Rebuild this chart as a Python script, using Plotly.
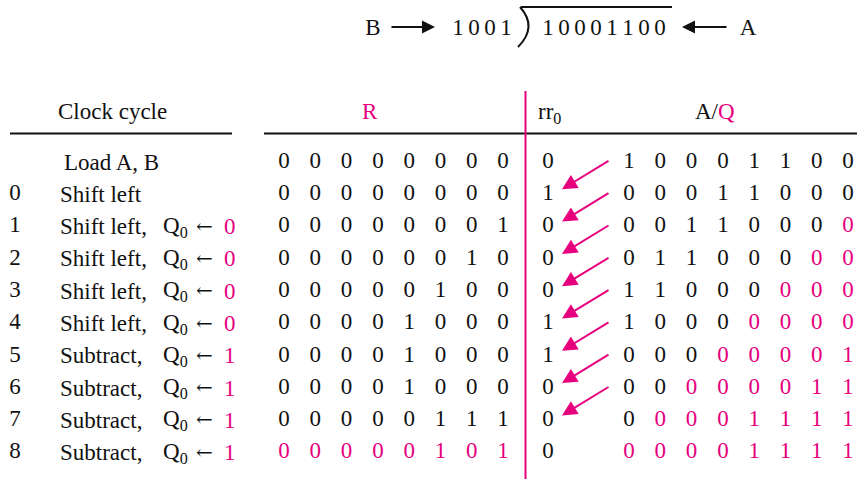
import plotly.graph_objects as go

# ---------------- data ----------------
row_numbers = ["", "0", "1", "2", "3", "4", "5", "6", "7", "8"]
operations = ["Load A, B", "Shift left", "Shift left,", "Shift left,", "Shift left,",
              "Shift left,", "Subtract,", "Subtract,", "Subtract,", "Subtract,"]
q0_values = [None, None, "0", "0", "0", "0", "1", "1", "1", "1"]
R_rows = ["00000000", "00000000", "00000001", "00000010", "00000100",
          "00001000", "00001000", "00001000", "00000111", "00000101"]
R_highlight = [False, False, False, False, False, False, False, False, False, True]
rr0_values = ["0", "1", "0", "0", "0", "1", "1", "0", "0", "0"]
AQ_rows = ["10001100", "00011000", "00110000", "01100000", "11000000",
           "10000000", "00000001", "00000011", "00001111", "00001111"]
Q_bit_counts = [0, 0, 1, 2, 3, 4, 5, 6, 7, 8]   # trailing quotient bits (pink)
divisor = "1001"
dividend = "10001100"
headers = {"clock": "Clock cycle", "R": "R", "rr0": "rr<sub>0</sub>"}

# ---------------- style / layout constants ----------------
W, H = 857, 479
PINK = "#E6007E"
BLACK = "#111111"
FONT = "Liberation Serif, Times New Roman, serif"
FS = 23
ROW_Y0, ROW_DY = 162.0, 32.3
R_X0, COL_DX = 284.0, 31.3
RR_X = 548.0
AQ_X0 = 629.0
TOP_Y = 29.0
DIG_DX = 16.0

fig = go.Figure()

# table digits
xs, ys, ts, cs = [], [], [], []
for i, bits in enumerate(R_rows):
    y = ROW_Y0 + i * ROW_DY
    for j, b in enumerate(bits):
        xs.append(R_X0 + j * COL_DX); ys.append(y); ts.append(b)
        cs.append(PINK if R_highlight[i] else BLACK)
    xs.append(RR_X); ys.append(y); ts.append(rr0_values[i]); cs.append(BLACK)
    aq = AQ_rows[i]
    for j, b in enumerate(aq):
        xs.append(AQ_X0 + j * COL_DX); ys.append(y); ts.append(b)
        cs.append(PINK if j >= len(aq) - Q_bit_counts[i] else BLACK)
    if row_numbers[i]:
        xs.append(15); ys.append(y); ts.append(row_numbers[i]); cs.append(BLACK)

# top division digits
for j, b in enumerate(divisor):
    xs.append(458 + j * DIG_DX); ys.append(TOP_Y); ts.append(b); cs.append(BLACK)
for j, b in enumerate(dividend):
    xs.append(548 + j * DIG_DX); ys.append(TOP_Y); ts.append(b); cs.append(BLACK)
xs += [373, 748]; ys += [TOP_Y, TOP_Y]; ts += ["B", "A"]; cs += [BLACK, BLACK]

fig.add_trace(go.Scatter(x=xs, y=ys, text=ts, mode="text",
                         textfont=dict(family=FONT, size=FS, color=cs),
                         textposition="middle center", hoverinfo="skip",
                         showlegend=False))

ann = []
def txt(x, y, s, anchor="left", color=BLACK, family=FONT, size=FS):
    ann.append(dict(x=x, y=y, xref="x", yref="y", text=s, showarrow=False,
                    xanchor=anchor, yanchor="middle",
                    font=dict(family=family, size=size, color=color)))

for i, op in enumerate(operations):
    y = ROW_Y0 + i * ROW_DY
    txt(62 if i == 0 else 58, y, op)
    if q0_values[i] is not None:
        txt(161, y, "Q<sub>0</sub>")
        txt(204, y - 1, "\u2190", anchor="center", family="DejaVu Serif", size=20)
        txt(230, y, q0_values[i], anchor="center", color=PINK)

# headers
txt(112, 111, headers["clock"], anchor="center")
txt(370, 111, headers["R"], anchor="center", color=PINK)
txt(536, 113, headers["rr0"])
txt(693, 111, "A/<span style='color:%s'>Q</span>" % PINK)

# arrows rr0 <- A/Q
for i in range(len(AQ_rows) - 2):
    y0 = ROW_Y0 + i * ROW_DY
    y1 = ROW_Y0 + (i + 1) * ROW_DY
    ann.append(dict(x=562, y=y1 - 5, ax=610, ay=y0 - 2, xref="x", yref="y",
                    axref="x", ayref="y", text="", showarrow=True,
                    arrowhead=2, arrowsize=1.5, arrowwidth=2, arrowcolor=PINK))

# top arrows
ann.append(dict(x=435, y=TOP_Y - 2, ax=390, ay=TOP_Y - 2, xref="x", yref="y",
                axref="x", ayref="y", text="", showarrow=True,
                arrowhead=2, arrowsize=1.3, arrowwidth=2, arrowcolor=BLACK))
ann.append(dict(x=682, y=TOP_Y - 2, ax=728, ay=TOP_Y - 2, xref="x", yref="y",
                axref="x", ayref="y", text="", showarrow=True,
                arrowhead=2, arrowsize=1.3, arrowwidth=2, arrowcolor=BLACK))

shapes = [
    dict(type="line", x0=10, x1=232, y0=133.5, y1=133.5, line=dict(color=BLACK, width=2)),
    dict(type="line", x0=264, x1=857, y0=133.5, y1=133.5, line=dict(color=BLACK, width=2)),
    dict(type="line", x0=525.5, x1=525.5, y0=91, y1=479, line=dict(color=PINK, width=2)),
    dict(type="line", x0=521, x1=672, y0=7, y1=7, line=dict(color=BLACK, width=2)),
    dict(type="path", path="M 520 7 Q 538 27 518 47", line=dict(color=BLACK, width=2)),
]

fig.update_layout(
    width=W, height=H, margin=dict(l=0, r=0, t=0, b=0),
    paper_bgcolor="white", plot_bgcolor="white",
    xaxis=dict(range=[0, W], visible=False, fixedrange=True),
    yaxis=dict(range=[H, 0], visible=False, fixedrange=True),
    annotations=ann, shapes=shapes, showlegend=False,
)
fig.write_html("out.html", config={"displayModeBar": False},
               post_script="document.body.style.margin='0';document.body.style.overflow='hidden';")
